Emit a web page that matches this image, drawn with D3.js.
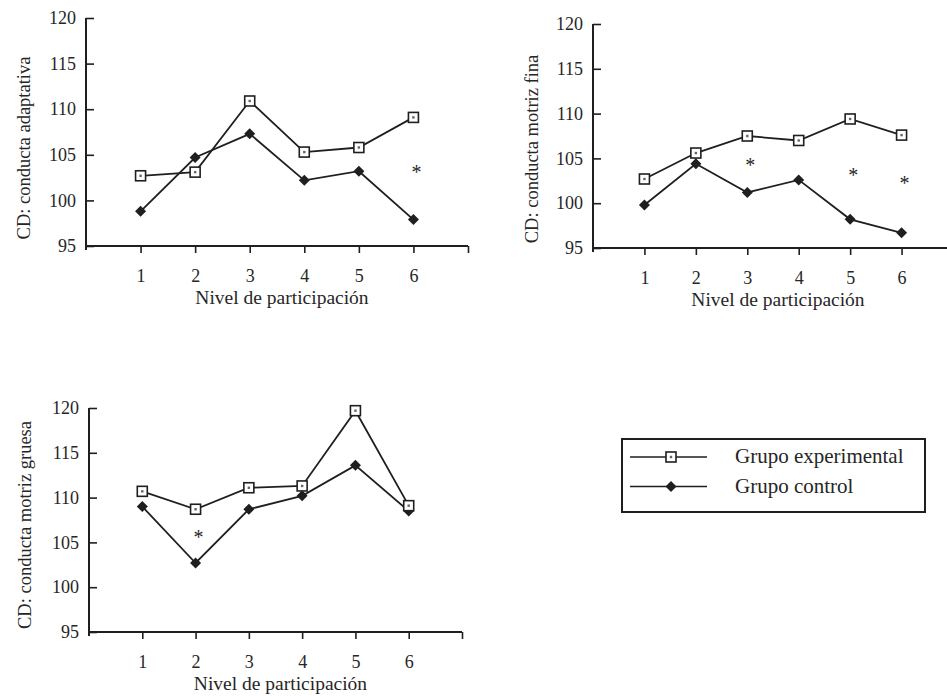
<!DOCTYPE html>
<html>
<head>
<meta charset="utf-8">
<script src="https://cdn.jsdelivr.net/npm/d3@7"></script>
<style>
  body { margin: 0; background: #fff; }
  svg { display: block; }
  text { font-family: "Liberation Serif", "DejaVu Serif", serif; fill: #262626; }
</style>
</head>
<body>
<svg id="chart"></svg>
<script>
const width = 947;
const height = 696;

// Levels of participation (x) and y ticks
const niveles = [1, 2, 3, 4, 5, 6];
const yTicks = [95, 100, 105, 110, 115, 120];

// CD: conducta adaptativa
const adaptativaExp = [102.7, 103.1, 110.9, 105.3, 105.8, 109.1];
const adaptativaCtrl = [98.8, 104.7, 107.3, 102.2, 103.2, 97.9];
const adaptativaSig = [{ nivel: 6, valor: 103.3 }];

// CD: conducta motriz fina
const finaExp = [102.7, 105.6, 107.5, 107.0, 109.4, 107.6];
const finaCtrl = [99.8, 104.4, 101.2, 102.6, 98.2, 96.7];
const finaSig = [{ nivel: 3, valor: 104.5 }, { nivel: 5, valor: 103.4 }, { nivel: 6, valor: 102.5 }];

// CD: conducta motriz gruesa
const gruesaExp = [110.7, 108.7, 111.1, 111.3, 119.7, 109.1];
const gruesaCtrl = [109.0, 102.7, 108.7, 110.2, 113.6, 108.5];
const gruesaSig = [{ nivel: 2, valor: 105.8 }];

const legendLabels = ["Grupo experimental", "Grupo control"];

const ink = "#1f1f1f";

const svg = d3.select("#chart")
  .attr("width", width)
  .attr("height", height)
  .attr("viewBox", [0, 0, width, height]);

const panels = [
  { label: "CD: conducta adaptativa", exp: adaptativaExp, ctrl: adaptativaCtrl, sig: adaptativaSig,
    left: 86, right: 468, top: 18, bottom: 246, labelX: 30, labelY: 148 },
  { label: "CD: conducta motriz fina", exp: finaExp, ctrl: finaCtrl, sig: finaSig,
    left: 593, right: 953, top: 24, bottom: 248, labelX: 538, labelY: 149 },
  { label: "CD: conducta motriz gruesa", exp: gruesaExp, ctrl: gruesaCtrl, sig: gruesaSig,
    left: 89, right: 462, top: 408, bottom: 632, labelX: 31, labelY: 525 }
];

// filled diamond, as wide as it is tall
const diamond = "M0,-5.5L5.5,0L0,5.5L-5.5,0Z";

panels.forEach(p => {
  const x = d3.scaleLinear().domain([0, 7]).range([p.left, p.right]);
  const y = d3.scaleLinear().domain([95, 120]).range([p.bottom, p.top]);
  const g = svg.append("g");

  // y axis, ticks pointing inward
  const yAxis = g.append("g")
    .attr("transform", `translate(${p.left},0)`)
    .call(d3.axisLeft(y).tickValues(yTicks).tickSizeInner(-8).tickSizeOuter(0).tickPadding(10));
  yAxis.select(".domain").remove();
  yAxis.selectAll("line").attr("stroke", ink).attr("stroke-width", 1.6);
  yAxis.selectAll("text").attr("font-size", 18).attr("font-family", null).attr("fill", null);
  g.append("line")
    .attr("x1", p.left).attr("x2", p.left)
    .attr("y1", p.top).attr("y2", p.bottom + 4)
    .attr("stroke", ink).attr("stroke-width", 2);

  // x axis
  const xAxis = g.append("g")
    .attr("transform", `translate(0,${p.bottom})`)
    .call(d3.axisBottom(x).tickValues([...niveles, 7]).tickSizeOuter(0).tickSize(7).tickPadding(16)
      .tickFormat(d => d === 7 ? "" : d));
  xAxis.select(".domain").remove();
  xAxis.selectAll("line").attr("stroke", ink).attr("stroke-width", 1.6);
  xAxis.selectAll("text").attr("font-size", 18).attr("font-family", null).attr("fill", null);
  g.append("line")
    .attr("x1", p.left).attr("x2", p.right)
    .attr("y1", p.bottom).attr("y2", p.bottom)
    .attr("stroke", ink).attr("stroke-width", 2);

  // axis titles
  g.append("text")
    .attr("transform", `translate(${p.labelX},${p.labelY}) rotate(-90)`)
    .attr("text-anchor", "middle")
    .attr("font-size", 18.5)
    .text(p.label);

  g.append("text")
    .attr("x", (p.left + x(7)) / 2 + 5)
    .attr("y", p.bottom + 58)
    .attr("text-anchor", "middle")
    .attr("font-size", 19.5)
    .text("Nivel de participación");

  const line = d3.line().x((d, i) => x(niveles[i])).y(d => y(d));

  // control group
  g.append("path")
    .datum(p.ctrl)
    .attr("d", line)
    .attr("fill", "none")
    .attr("stroke", ink)
    .attr("stroke-width", 1.8);
  g.selectAll(".ctrl")
    .data(p.ctrl)
    .join("path")
    .attr("class", "ctrl")
    .attr("transform", (d, i) => `translate(${x(niveles[i])},${y(d)})`)
    .attr("d", diamond)
    .attr("fill", ink);

  // experimental group
  g.append("path")
    .datum(p.exp)
    .attr("d", line)
    .attr("fill", "none")
    .attr("stroke", ink)
    .attr("stroke-width", 1.8);
  const sq = g.selectAll(".exp")
    .data(p.exp)
    .join("g")
    .attr("class", "exp")
    .attr("transform", (d, i) => `translate(${x(niveles[i])},${y(d)})`);
  sq.append("rect")
    .attr("x", -5).attr("y", -5).attr("width", 10).attr("height", 10)
    .attr("fill", "#fff").attr("stroke", ink).attr("stroke-width", 1.6);
  sq.append("rect")
    .attr("x", -1.2).attr("y", -1.2).attr("width", 2.4).attr("height", 2.4)
    .attr("fill", "#666");

  // significance marks
  g.selectAll(".sig")
    .data(p.sig)
    .join("text")
    .attr("class", "sig")
    .attr("x", d => x(d.nivel) + 3)
    .attr("y", d => y(d.valor) + 9)
    .attr("text-anchor", "middle")
    .attr("font-size", 20)
    .text("*");
});

// legend
const legend = svg.append("g");
legend.append("rect")
  .attr("x", 622).attr("y", 439)
  .attr("width", 303).attr("height", 73)
  .attr("fill", "none")
  .attr("stroke", ink)
  .attr("stroke-width", 2);

legendLabels.forEach((label, i) => {
  const ly = 457 + i * 29.5;
  legend.append("line")
    .attr("x1", 630).attr("x2", 707)
    .attr("y1", ly).attr("y2", ly)
    .attr("stroke", ink).attr("stroke-width", 1.6);
  if (i === 0) {
    legend.append("rect")
      .attr("x", 666).attr("y", ly - 5).attr("width", 10).attr("height", 10)
      .attr("fill", "#fff").attr("stroke", ink).attr("stroke-width", 1.6);
    legend.append("rect")
      .attr("x", 669.8).attr("y", ly - 1.2).attr("width", 2.4).attr("height", 2.4)
      .attr("fill", "#666");
  } else {
    legend.append("path")
      .attr("transform", `translate(671,${ly})`)
      .attr("d", diamond)
      .attr("fill", ink);
  }
  legend.append("text")
    .attr("x", 735)
    .attr("y", ly + 6)
    .attr("font-size", 21)
    .text(label);
});
</script>
</body>
</html>
